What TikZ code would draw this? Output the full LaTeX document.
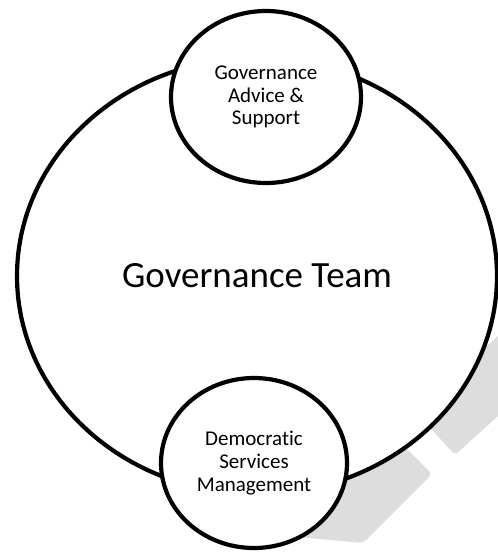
\documentclass[tikz,border=0pt]{standalone}
\usepackage{fontspec}
\setmainfont[RawFeature=-liga]{Carlito}
\usetikzlibrary{shapes.geometric}
\definecolor{wmgray}{RGB}{221,221,221}
\begin{document}
\begin{tikzpicture}[x=1pt,y=-1pt,
  ring/.style={draw=black, line width=4.2pt, fill=white, ellipse, inner sep=0pt, align=center},
  wmark/.style={fill=wmgray, rounded corners=4pt},
  bigtext/.style={font=\fontsize{37}{44}\selectfont},
  smalltext/.style={font=\fontsize{21}{22.7}\selectfont}]
\useasboundingbox (0,0) rectangle (498,552);
% faint watermark strokes behind the rings
\fill[wmark] (455,455) -- (540,378) -- (500,334) -- (415,411) -- cycle;
\fill[wmark] (363,543) -- (432,474) -- (395,437) -- (300,480) -- (298,537) -- cycle;
% outer ring
\node[ring, bigtext, minimum width=480pt, minimum height=436pt] (team) at (257,276) {Governance Team};
% satellite rings
\node[ring, smalltext, minimum width=190pt, minimum height=172pt] (advice) at (266,97) {Governance\\Advice \&\\Support};
\node[ring, smalltext, minimum width=186pt, minimum height=170pt] (dsm) at (254,463) {Democratic\\Services\\Management};
\end{tikzpicture}
\end{document}
